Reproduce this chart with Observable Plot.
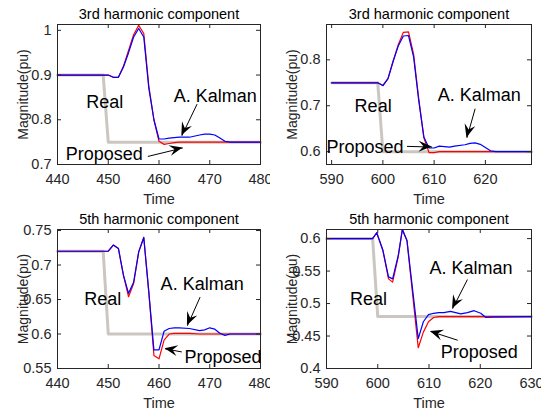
<!DOCTYPE html>
<html><head><meta charset="utf-8">
<script src="https://cdn.jsdelivr.net/npm/d3@7"></script>
<script src="https://cdn.jsdelivr.net/npm/@observablehq/plot@0.6"></script>
<style>
html,body{margin:0;padding:0;background:#fff}
body{width:541px;height:413px;position:relative;overflow:hidden}
.panel{position:absolute}
</style></head><body>
<div id="p1" class="panel" style="left:0;top:0"></div>
<div id="p2" class="panel" style="left:270px;top:0"></div>
<div id="p3" class="panel" style="left:0;top:205px"></div>
<div id="p4" class="panel" style="left:270px;top:205px"></div>
<script>
// ---------- Panel 1: 3rd harmonic, t 440-480 ----------
const p1Title = "3rd harmonic component";
const p1XTicks = [440, 450, 460, 470, 480];
const p1YTicks = [0.7, 0.8, 0.9, 1];
const p1RealTime = [440, 449, 450, 480];
const p1Real = [0.9, 0.9, 0.75, 0.75];
const p1Time = [440, 450, 451, 452, 453, 454, 455, 456, 457, 458, 459, 460, 461, 462, 463, 464, 466, 468, 469, 470, 471, 472, 473, 474, 480];
const p1Kalman = [0.9, 0.9, 0.895, 0.895, 0.918, 0.95, 0.985, 1.004, 0.985, 0.87, 0.80, 0.757, 0.757, 0.759, 0.760, 0.761, 0.761, 0.766, 0.768, 0.768, 0.766, 0.759, 0.752, 0.75, 0.75];
const p1Proposed = [0.9, 0.9, 0.895, 0.895, 0.92, 0.955, 0.99, 1.011, 0.993, 0.875, 0.80, 0.752, 0.745, 0.747, 0.749, 0.75, 0.75, 0.75, 0.75, 0.75, 0.75, 0.75, 0.75, 0.75, 0.75];
const p1LabelText = ["Real", "A. Kalman", "Proposed"];
const p1LabelT = [449.3, 471.1, 449.2];
const p1LabelV = [0.839, 0.852, 0.724];
const p1ArrowFrom = [[467.5, 0.835], [457.8, 0.718]];
const p1ArrowTo = [[464.5, 0.764], [464.7, 0.737]];

// ---------- Panel 2: 3rd harmonic, t 590-629 ----------
const p2Title = "3rd harmonic component";
const p2XTicks = [590, 600, 610, 620];
const p2YTicks = [0.6, 0.7, 0.8];
const p2RealTime = [590, 599, 600, 629];
const p2Real = [0.75, 0.75, 0.6, 0.6];
const p2Time = [590, 599, 600, 601, 602, 603, 604, 605, 606, 607, 608, 609, 610, 611, 612, 613, 614, 616, 617, 618, 619, 620, 621, 622, 629];
const p2Kalman = [0.75, 0.75, 0.744, 0.759, 0.797, 0.83, 0.852, 0.853, 0.806, 0.711, 0.632, 0.608, 0.608, 0.612, 0.611, 0.610, 0.612, 0.615, 0.618, 0.619, 0.616, 0.609, 0.602, 0.600, 0.600];
const p2Proposed = [0.75, 0.75, 0.744, 0.759, 0.797, 0.833, 0.860, 0.861, 0.812, 0.715, 0.630, 0.598, 0.598, 0.600, 0.600, 0.600, 0.600, 0.600, 0.600, 0.600, 0.600, 0.600, 0.600, 0.600, 0.600];
const p2LabelText = ["Real", "A. Kalman", "Proposed"];
const p2LabelT = [598.1, 618.8, 596.5];
const p2LabelV = [0.698, 0.722, 0.610];
const p2ArrowFrom = [[618.0, 0.6935], [604.7, 0.6115]];
const p2ArrowTo = [[616.4, 0.630], [609.6, 0.610]];

// ---------- Panel 3: 5th harmonic, t 440-480 ----------
const p3Title = "5th harmonic component";
const p3XTicks = [440, 450, 460, 470, 480];
const p3YTicks = [0.55, 0.6, 0.65, 0.7, 0.75];
const p3RealTime = [440, 449, 450, 480];
const p3Real = [0.72, 0.72, 0.6, 0.6];
const p3Time = [440, 450, 451, 452, 453, 454, 455, 456, 457, 458, 459, 460, 461, 462, 463, 464, 466, 468, 469, 470, 471, 472, 473, 474, 480];
const p3Kalman = [0.72, 0.72, 0.729, 0.724, 0.685, 0.659, 0.675, 0.719, 0.740, 0.66, 0.577, 0.577, 0.604, 0.608, 0.609, 0.609, 0.608, 0.605, 0.606, 0.609, 0.607, 0.601, 0.598, 0.600, 0.600];
const p3Proposed = [0.72, 0.72, 0.729, 0.724, 0.685, 0.654, 0.673, 0.719, 0.740, 0.66, 0.569, 0.564, 0.591, 0.600, 0.601, 0.601, 0.601, 0.600, 0.600, 0.600, 0.600, 0.600, 0.600, 0.600, 0.600];
const p3LabelText = ["Real", "A. Kalman", "Proposed"];
const p3LabelT = [448.9, 468.5, 472.6];
const p3LabelV = [0.650, 0.672, 0.567];
const p3ArrowFrom = [[468.1, 0.6535], [464.5, 0.574]];
const p3ArrowTo = [[465.6, 0.612], [461.2, 0.5785]];

// ---------- Panel 4: 5th harmonic, t 590-630 ----------
const p4Title = "5th harmonic component";
const p4XTicks = [590, 600, 610, 620, 630];
const p4YTicks = [0.4, 0.45, 0.5, 0.55, 0.6];
const p4RealTime = [590, 599, 600, 630];
const p4Real = [0.6, 0.6, 0.48, 0.48];
const p4Time = [590, 599, 599.8, 601, 602.1, 602.9, 604, 604.8, 605.7, 607.9, 608.9, 609.9, 610.9, 611.9, 612.9, 614.2, 615.2, 616.2, 617.5, 618.8, 620.1, 621.1, 622.1, 630];
const p4Kalman = [0.6, 0.6, 0.609, 0.582, 0.541, 0.538, 0.574, 0.614, 0.597, 0.446, 0.472, 0.483, 0.485, 0.486, 0.486, 0.488, 0.486, 0.484, 0.486, 0.489, 0.485, 0.4785, 0.479, 0.48];
const p4Proposed = [0.6, 0.6, 0.609, 0.582, 0.538, 0.533, 0.572, 0.614, 0.597, 0.432, 0.456, 0.472, 0.4785, 0.48, 0.48, 0.48, 0.48, 0.48, 0.48, 0.48, 0.48, 0.48, 0.48, 0.48];
const p4LabelText = ["Real", "A. Kalman", "Proposed"];
const p4LabelT = [598.2, 618.2, 619.8];
const p4LabelV = [0.506, 0.554, 0.4255];
const p4ArrowFrom = [[617.5, 0.537], [615.6, 0.4435]];
const p4ArrowTo = [[614.6, 0.492], [610.3, 0.457]];

const FONT = '"Liberation Sans", Arial, Helvetica, sans-serif';
const INK = "#262626";

function makePanel(o) {
  const [mt, mr, mb, ml] = o.margin;
  const innerW = o.width - ml - mr, innerH = o.height - mt - mb;
  const realData = o.realTime.map((t, i) => ({t, v: o.real[i]}));
  const kData = o.time.map((t, i) => ({t, v: o.kalman[i]}));
  const pData = o.time.map((t, i) => ({t, v: o.proposed[i]}));
  const labels = o.labelText.map((s, i) => ({s, t: o.labelT[i], v: o.labelV[i]}));
  const arrows = o.arrowFrom.map((f, i) => ({t1: f[0], v1: f[1], t2: o.arrowTo[i][0], v2: o.arrowTo[i][1]}));
  const fmt = d => String(d);
  const plot = Plot.plot({
    width: o.width, height: o.height,
    marginTop: mt, marginRight: mr, marginBottom: mb, marginLeft: ml,
    style: {fontFamily: FONT, fontSize: "14px", color: INK, background: "white", overflow: "visible"},
    x: {domain: o.xDomain},
    y: {domain: o.yDomain},
    marks: [
      Plot.line(realData, {x: "t", y: "v", stroke: "#cbc7c0", strokeWidth: 3}),
      Plot.line(pData, {x: "t", y: "v", stroke: "#ff0000", strokeWidth: 1.2}),
      Plot.line(kData, {x: "t", y: "v", stroke: "#0000ff", strokeWidth: 1.2}),
      Plot.frame({stroke: INK, strokeWidth: 1}),
      Plot.tickX(o.xTicks, {x: d => d, stroke: INK, insetTop: innerH - 4}),
      Plot.tickX(o.xTicks, {x: d => d, stroke: INK, insetBottom: innerH - 4}),
      Plot.tickY(o.yTicks, {y: d => d, stroke: INK, insetRight: innerW - 4}),
      Plot.tickY(o.yTicks, {y: d => d, stroke: INK, insetLeft: innerW - 4}),
      Plot.axisX({ticks: o.xTicks, tickSize: 0, tickPadding: 9, tickFormat: fmt, fontSize: 14.5, label: null, fill: INK}),
      Plot.axisY({ticks: o.yTicks, tickSize: 0, tickPadding: 6, tickFormat: fmt, fontSize: 14.5, label: null, fill: INK}),
      Plot.text(["Time"], {text: d => d, frameAnchor: "bottom", textAnchor: "middle", lineAnchor: "middle", dy: 35, fontSize: 14.5, fill: INK}),
      Plot.text(["Magnitude(pu)"], {text: d => d, frameAnchor: "left", textAnchor: "middle", lineAnchor: "middle", dx: -34, rotate: -90, fontSize: 14, fill: INK}),
      Plot.text([o.title], {text: d => d, frameAnchor: "top", textAnchor: "middle", lineAnchor: "middle", dy: -10, fontSize: 14.5, fill: "#000"}),
      Plot.text(labels, {x: "t", y: "v", text: "s", fontSize: 18, fill: "#000"}),
      Plot.link(arrows, {x1: "t1", y1: "v1", x2: "t2", y2: "v2", stroke: "#000", strokeWidth: 1})
    ]
  });
  // filled arrowheads positioned through the plot's own scales
  const sx = plot.scale("x"), sy = plot.scale("y");
  const svg = d3.select(plot);
  const L = 13, W = 11, N = 0.62;
  arrows.forEach(a => {
    const x1 = sx.apply(a.t1), y1 = sy.apply(a.v1), x2 = sx.apply(a.t2), y2 = sy.apply(a.v2);
    const len = Math.hypot(x2 - x1, y2 - y1);
    const ux = (x2 - x1) / len, uy = (y2 - y1) / len;
    const nx = -uy, ny = ux;
    const bx = x2 - L * ux, by = y2 - L * uy;
    const p = [
      [x2, y2],
      [bx + nx * W / 2, by + ny * W / 2],
      [x2 - N * L * ux, y2 - N * L * uy],
      [bx - nx * W / 2, by - ny * W / 2]
    ];
    svg.append("path").attr("d", "M" + p.map(q => q.join(",")).join("L") + "Z").attr("fill", "#000");
  });
  document.getElementById(o.el).appendChild(plot);
}

makePanel({el: "p1", width: 270, height: 206, margin: [24, 10, 42, 57], xDomain: [440, 480], yDomain: [0.7, 1.013],
  xTicks: p1XTicks, yTicks: p1YTicks, title: p1Title, realTime: p1RealTime, real: p1Real, time: p1Time,
  kalman: p1Kalman, proposed: p1Proposed, labelText: p1LabelText, labelT: p1LabelT, labelV: p1LabelV,
  arrowFrom: p1ArrowFrom, arrowTo: p1ArrowTo});
makePanel({el: "p2", width: 271, height: 206, margin: [24, 10, 42, 56], xDomain: [589, 629], yDomain: [0.572, 0.877],
  xTicks: p2XTicks, yTicks: p2YTicks, title: p2Title, realTime: p2RealTime, real: p2Real, time: p2Time,
  kalman: p2Kalman, proposed: p2Proposed, labelText: p2LabelText, labelT: p2LabelT, labelV: p2LabelV,
  arrowFrom: p2ArrowFrom, arrowTo: p2ArrowTo});
makePanel({el: "p3", width: 270, height: 208, margin: [24, 10, 45, 57], xDomain: [440, 480], yDomain: [0.55, 0.7515],
  xTicks: p3XTicks, yTicks: p3YTicks, title: p3Title, realTime: p3RealTime, real: p3Real, time: p3Time,
  kalman: p3Kalman, proposed: p3Proposed, labelText: p3LabelText, labelT: p3LabelT, labelV: p3LabelV,
  arrowFrom: p3ArrowFrom, arrowTo: p3ArrowTo});
makePanel({el: "p4", width: 271, height: 208, margin: [24, 10, 45, 56], xDomain: [590, 630], yDomain: [0.4, 0.614],
  xTicks: p4XTicks, yTicks: p4YTicks, title: p4Title, realTime: p4RealTime, real: p4Real, time: p4Time,
  kalman: p4Kalman, proposed: p4Proposed, labelText: p4LabelText, labelT: p4LabelT, labelV: p4LabelV,
  arrowFrom: p4ArrowFrom, arrowTo: p4ArrowTo});
</script>
</body></html>
